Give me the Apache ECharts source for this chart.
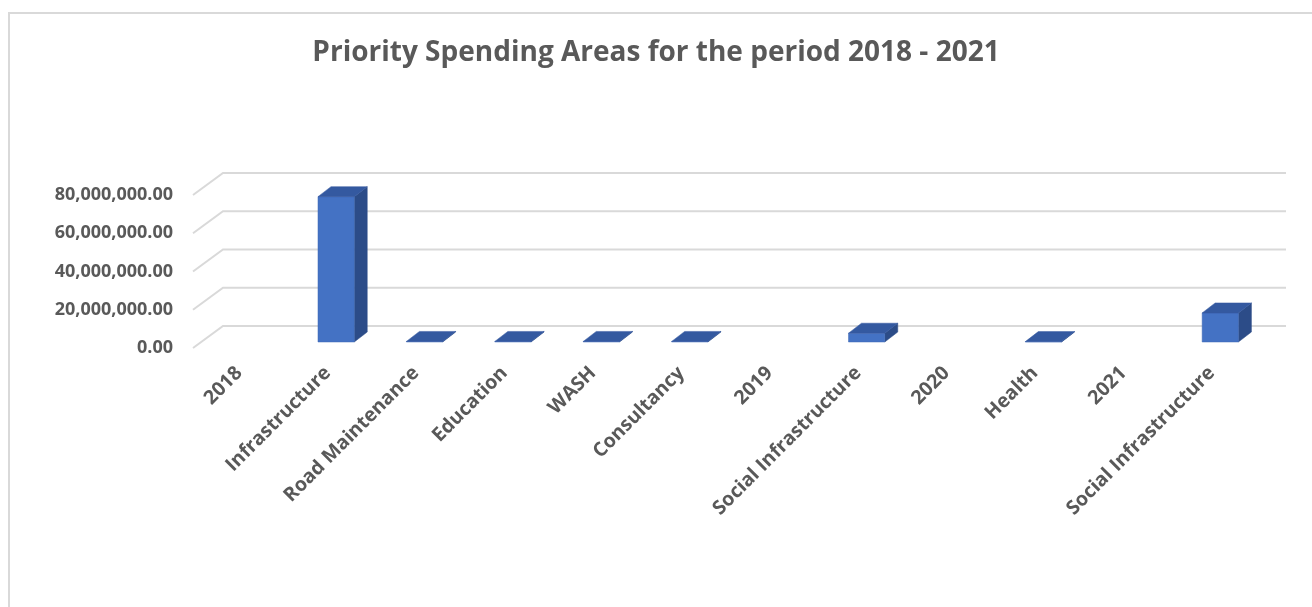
<!DOCTYPE html>
<html>
<head>
<meta charset="utf-8">
<title>Priority Spending Areas for the period 2018 - 2021</title>
<script src="https://cdn.jsdelivr.net/npm/echarts@6/dist/echarts.min.js"></script>
<style>
  html, body { margin: 0; padding: 0; background: #ffffff; }
  #chart { width: 1312px; height: 607px; }
</style>
</head>
<body>
<div id="chart"></div>
<script>
// Spending areas grouped under the year that introduces them
const categories = [
  '2018', 'Infrastructure', 'Road Maintenance', 'Education', 'WASH', 'Consultancy',
  '2019', 'Social Infrastructure', '2020', 'Health', '2021', 'Social Infrastructure'
];
const spending = [
  null, 76000000, 300000, 300000, 300000, 300000,
  null, 4600000, null, 200000, null, 15200000
];
const yTicks = [0, 20000000, 40000000, 60000000, 80000000];

// Oblique "3D" geometry (pixels)
const WALL_DX = 30, WALL_DY = -22;   // depth of the chart floor
const BAR_DX = 13, BAR_DY = -10;     // depth of each column
const BAR_RATIO = 0.41;              // column width / category width

const TEXT = '#595959';
const GRID = '#d9d9d9';

function fmtMoney(v) {
  const parts = Number(v).toFixed(2).split('.');
  parts[0] = parts[0].replace(/\B(?=(\d{3})+(?!\d))/g, ',');
  return parts.join('.');
}

// Back-wall gridlines with the diagonal return on the left side
function renderGridline(params, api) {
  const p = api.coord([0, api.value(1)]);
  const cs = params.coordSys;
  const x0 = cs.x - 2;
  const xr = cs.x + cs.width;
  return {
    type: 'polyline',
    silent: true,
    shape: { points: [[x0, p[1]], [x0 + WALL_DX, p[1] + WALL_DY], [xr + WALL_DX, p[1] + WALL_DY]] },
    style: { stroke: GRID, lineWidth: 2, fill: null }
  };
}

// Column drawn as front, top and side faces
function renderColumn(params, api) {
  const v = api.value(1);
  if (v == null || isNaN(v)) return;
  const idx = api.value(0);
  const base = api.coord([idx, 0]);
  const top = api.coord([idx, v]);
  const w = api.size([1, 0])[0] * BAR_RATIO;
  const ox = (WALL_DX - BAR_DX) / 2;
  const oy = (WALL_DY - BAR_DY) / 2;
  const x1 = base[0] - w / 2 + ox;
  const x2 = x1 + w;
  const yb = base[1] + oy;
  const yt = top[1] + oy;
  return {
    type: 'group',
    children: [
      {
        type: 'polygon',
        shape: { points: [[x2, yb], [x2, yt], [x2 + BAR_DX, yt + BAR_DY], [x2 + BAR_DX, yb + BAR_DY]] },
        style: { fill: '#2c4c88', stroke: '#2c4c88', lineWidth: 0.5 }
      },
      {
        type: 'rect',
        shape: { x: x1, y: yt, width: w, height: Math.max(yb - yt, 0) },
        style: { fill: '#4472c4', stroke: '#3e68b5', lineWidth: 0.5 }
      },
      {
        type: 'polygon',
        shape: { points: [[x1, yt], [x2, yt], [x2 + BAR_DX, yt + BAR_DY], [x1 + BAR_DX, yt + BAR_DY]] },
        style: { fill: '#3459a0', stroke: '#3459a0', lineWidth: 0.5 }
      }
    ]
  };
}

const chart = echarts.init(document.getElementById('chart'), null, { renderer: 'canvas' });

chart.setOption({
  backgroundColor: '#ffffff',
  animation: false,
  title: {
    text: 'Priority Spending Areas for the period 2018 - 2021',
    left: 'center',
    top: 34,
    textStyle: {
      fontFamily: 'Open Sans',
      fontWeight: 'bold',
      fontSize: 28,
      color: TEXT
    }
  },
  graphic: [{
    type: 'rect',
    silent: true,
    shape: { x: 9, y: 13, width: 1400, height: 700 },
    style: { fill: null, stroke: GRID, lineWidth: 2 }
  }],
  grid: { left: 195, right: 56, top: 195, bottom: 259, containLabel: false },
  xAxis: {
    type: 'category',
    data: categories,
    boundaryGap: true,
    axisLine: { show: false },
    axisTick: { show: false },
    splitLine: { show: false },
    axisLabel: {
      interval: 0,
      rotate: 45,
      margin: 22,
      fontFamily: 'Open Sans',
      fontWeight: 'bold',
      fontSize: 19.5,
      color: TEXT
    }
  },
  yAxis: {
    type: 'value',
    min: 0,
    max: 80000000,
    interval: 20000000,
    axisLine: { show: false },
    axisTick: { show: false },
    splitLine: { show: false },
    axisLabel: {
      margin: 22,
      padding: [6, 0, 0, 0],
      fontFamily: 'Open Sans',
      fontWeight: 'bold',
      fontSize: 18,
      color: TEXT,
      formatter: fmtMoney
    }
  },
  series: [
    {
      type: 'custom',
      name: 'gridlines',
      silent: true,
      z: 1,
      renderItem: renderGridline,
      data: yTicks.map(v => [0, v])
    },
    {
      type: 'custom',
      name: 'Spending',
      z: 2,
      renderItem: renderColumn,
      data: spending.map((v, i) => [i, v])
    }
  ]
});
</script>
</body>
</html>
